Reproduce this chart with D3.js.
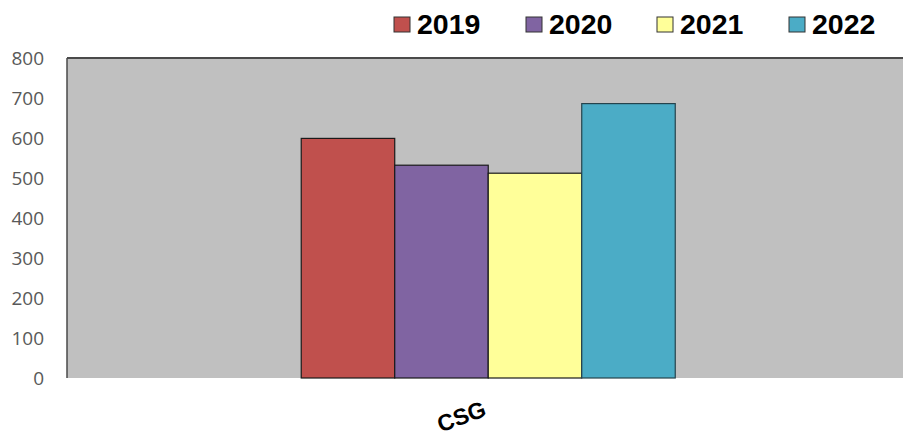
<!DOCTYPE html>
<html>
<head>
<meta charset="utf-8">
<script src="https://cdn.jsdelivr.net/npm/d3@7"></script>
<style>
  html, body { margin: 0; padding: 0; background: #fff; }
  svg { display: block; }
</style>
</head>
<body>
<svg id="chart" width="905" height="436"></svg>
<script>
// Chart data
const categories = ["CSG"];
const seriesNames = ["2019", "2020", "2021", "2022"];
const seriesValues = [[599], [532], [512], [686]];
const seriesColors = ["#C0504D", "#8064A2", "#FFFF99", "#4BACC6"];
const yTicks = [0, 100, 200, 300, 400, 500, 600, 700, 800];

const svg = d3.select("#chart");
const plot = { left: 67, top: 58, right: 903, bottom: 378 };

const y = d3.scaleLinear().domain([0, 800]).range([plot.bottom, plot.top]);
const x0 = d3.scaleBand().domain(categories)
  .range([plot.left, plot.right]).paddingInner(0).paddingOuter(0.6176).align(0.507);
const x1 = d3.scaleBand().domain(seriesNames).range([0, x0.bandwidth()]).padding(0);

// Plot area
svg.append("rect")
  .attr("x", plot.left).attr("y", plot.top)
  .attr("width", plot.right - plot.left).attr("height", plot.bottom - plot.top)
  .attr("fill", "#C0C0C0");
svg.append("line")
  .attr("x1", plot.left).attr("x2", plot.right)
  .attr("y1", plot.top).attr("y2", plot.top)
  .attr("stroke", "#4a4a4a").attr("stroke-width", 2);
svg.append("line")
  .attr("x1", plot.left).attr("x2", plot.left)
  .attr("y1", plot.top).attr("y2", plot.bottom)
  .attr("stroke", "#4a4a4a").attr("stroke-width", 1.5);

// Y axis labels
const yAxis = d3.axisLeft(y).tickValues(yTicks).tickSize(0).tickPadding(23);
const yg = svg.append("g").attr("transform", `translate(${plot.left},0)`).call(yAxis);
yg.select(".domain").remove();
yg.selectAll("text")
  .attr("font-family", "'Open Sans', sans-serif")
  .attr("font-size", 19)
  .attr("fill", "#595959");

// Bars
const groups = svg.append("g").selectAll("g")
  .data(categories).join("g")
  .attr("transform", d => `translate(${x0(d)},0)`);

groups.selectAll("rect")
  .data((d, ci) => seriesNames.map((s, si) => ({ s, si, v: seriesValues[si][ci] })))
  .join("rect")
  .attr("x", d => x1(d.s))
  .attr("y", d => y(d.v))
  .attr("width", x1.bandwidth())
  .attr("height", d => y(0) - y(d.v))
  .attr("fill", d => seriesColors[d.si])
  .attr("stroke", d => d.si === 3 ? "#25434c" : "#1a1a1a")
  .attr("stroke-width", 1.2);

// Category label, slanted under the group
categories.forEach(c => {
  const cx = x0(c) + x0.bandwidth() / 2 - 24;
  svg.append("text")
    .attr("transform", `translate(${cx},${424}) rotate(-20)`)
    .attr("text-anchor", "middle")
    .attr("font-family", "'Liberation Sans', Arial, sans-serif")
    .attr("font-weight", "bold")
    .attr("font-size", 23)
    .attr("fill", "#000")
    .text(c);
});

// Legend
const legendX = [394, 526, 657, 789];
const legend = svg.append("g");
seriesNames.forEach((s, i) => {
  legend.append("rect")
    .attr("x", legendX[i]).attr("y", 17)
    .attr("width", 16).attr("height", 15)
    .attr("fill", seriesColors[i])
    .attr("stroke", "#333").attr("stroke-width", 1);
  legend.append("text")
    .attr("x", legendX[i] + 23).attr("y", 34)
    .attr("font-family", "'Liberation Sans', Arial, sans-serif")
    .attr("font-weight", "bold")
    .attr("font-size", 28.5)
    .attr("fill", "#000")
    .text(s);
});
</script>
</body>
</html>
